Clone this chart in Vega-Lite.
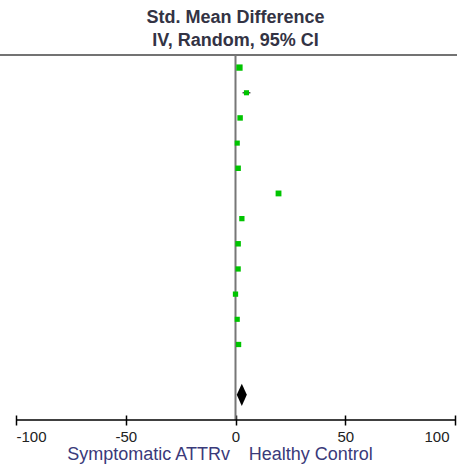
{
  "$schema": "https://vega.github.io/schema/vega-lite/v6.json",
  "autosize": "none",
  "width": 439,
  "height": 365,
  "padding": {"left": 16, "top": 55, "right": 2, "bottom": 49},
  "config": {
    "view": {"stroke": null},
    "font": "Liberation Sans"
  },
  "title": {
    "text": ["Std. Mean Difference", "IV, Random, 95% CI"],
    "fontSize": 18,
    "fontWeight": "bold",
    "color": "#333344",
    "lineHeight": 23,
    "anchor": "middle",
    "offset": 4,
    "font": "Liberation Sans"
  },
  "datasets": {
    "studies": [
      {"row": 1, "est": 1.8, "lo": 1.0, "hi": 2.6, "w": 40},
      {"row": 2, "est": 5.0, "lo": 3.2, "hi": 6.8, "w": 26},
      {"row": 3, "est": 2.1, "lo": 1.4, "hi": 2.8, "w": 30},
      {"row": 4, "est": 0.8, "lo": 0.2, "hi": 1.4, "w": 26},
      {"row": 5, "est": 1.2, "lo": 0.5, "hi": 1.9, "w": 30},
      {"row": 6, "est": 19.6, "lo": 18.6, "hi": 20.6, "w": 34},
      {"row": 7, "est": 2.9, "lo": 2.3, "hi": 3.5, "w": 28},
      {"row": 8, "est": 1.2, "lo": 0.4, "hi": 2.0, "w": 30},
      {"row": 9, "est": 1.2, "lo": 0.5, "hi": 1.9, "w": 28},
      {"row": 10, "est": 0.0, "lo": -0.6, "hi": 0.6, "w": 28},
      {"row": 11, "est": 0.8, "lo": 0.2, "hi": 1.4, "w": 26},
      {"row": 12, "est": 1.4, "lo": 0.7, "hi": 2.1, "w": 28}
    ],
    "overall": [
      {"row": 14, "est": 2.87, "lo": 0.77, "hi": 5.33}
    ],
    "frame": [
      {"x": -108, "x2": 101, "y": 0.5}
    ],
    "zero": [
      {"x": 0, "y": 0.5, "y2": 15}
    ],
    "axisline": [
      {"x": -100, "x2": 100, "y": 15}
    ],
    "leftlabel": [
      {"x": -2.5, "y": 16.59, "label": "Symptomatic ATTRv"}
    ],
    "rightlabel": [
      {"x": 6, "y": 16.59, "label": "Healthy Control"}
    ]
  },
  "layer": [
    {
      "data": {"name": "frame"},
      "mark": {"type": "rule", "color": "#444444", "strokeWidth": 1.5},
      "encoding": {
        "x": {"field": "x", "type": "quantitative", "scale": {"domain": [-100, 100], "nice": false, "zero": false},
          "axis": {"values": [-100, -50, 0, 50, 100], "labelExpr": "'' + datum.value", "labelFlush": true, "labelOffset": {"condition": {"test": "datum.value == 100", "value": -6}, "value": 0}, "domain": false, "grid": false, "tickSize": 10, "offset": -5, "tickColor": "#000000", "tickWidth": 1.5, "labelFontSize": 15, "labelColor": "#222222", "labelPadding": 4, "title": null, "labelFont": "Liberation Sans"}},
        "x2": {"field": "x2"},
        "y": {"field": "y", "type": "quantitative", "scale": {"domain": [0.5, 15], "reverse": true, "nice": false, "zero": false}, "axis": null}
      }
    },
    {
      "data": {"name": "zero"},
      "mark": {"type": "rule", "color": "#777777", "strokeWidth": 2},
      "encoding": {
        "x": {"field": "x", "type": "quantitative"},
        "y": {"field": "y", "type": "quantitative"},
        "y2": {"field": "y2"}
      }
    },
    {
      "data": {"name": "axisline"},
      "mark": {"type": "rule", "color": "#000000", "strokeWidth": 1.5},
      "encoding": {
        "x": {"field": "x", "type": "quantitative"},
        "x2": {"field": "x2"},
        "y": {"field": "y", "type": "quantitative"}
      }
    },
    {
      "data": {"name": "studies"},
      "mark": {"type": "rule", "color": "#555555", "strokeWidth": 1.5},
      "encoding": {
        "x": {"field": "lo", "type": "quantitative"},
        "x2": {"field": "hi"},
        "y": {"field": "row", "type": "quantitative"}
      }
    },
    {
      "data": {"name": "studies"},
      "mark": {"type": "point", "shape": "square", "filled": true, "color": "#00c400", "opacity": 1},
      "encoding": {
        "x": {"field": "est", "type": "quantitative"},
        "y": {"field": "row", "type": "quantitative"},
        "size": {"field": "w", "type": "quantitative", "scale": {"type": "linear", "domain": [0, 100], "range": [0, 100], "zero": true}, "legend": null}
      }
    },
    {
      "data": {"name": "overall"},
      "mark": {"type": "point", "shape": "M0,-1L0.45,0L0,1L-0.45,0Z", "filled": true, "color": "#000000", "opacity": 1, "size": 500},
      "encoding": {
        "x": {"field": "est", "type": "quantitative"},
        "y": {"field": "row", "type": "quantitative"}
      }
    },
    {
      "data": {"name": "leftlabel"},
      "mark": {"type": "text", "align": "right", "baseline": "alphabetic", "fontSize": 18, "color": "#3a3a7a", "font": "Liberation Sans"},
      "encoding": {
        "x": {"field": "x", "type": "quantitative"},
        "y": {"field": "y", "type": "quantitative"},
        "text": {"field": "label"}
      }
    },
    {
      "data": {"name": "rightlabel"},
      "mark": {"type": "text", "align": "left", "baseline": "alphabetic", "fontSize": 18, "color": "#3a3a7a", "font": "Liberation Sans"},
      "encoding": {
        "x": {"field": "x", "type": "quantitative"},
        "y": {"field": "y", "type": "quantitative"},
        "text": {"field": "label"}
      }
    }
  ]
}
